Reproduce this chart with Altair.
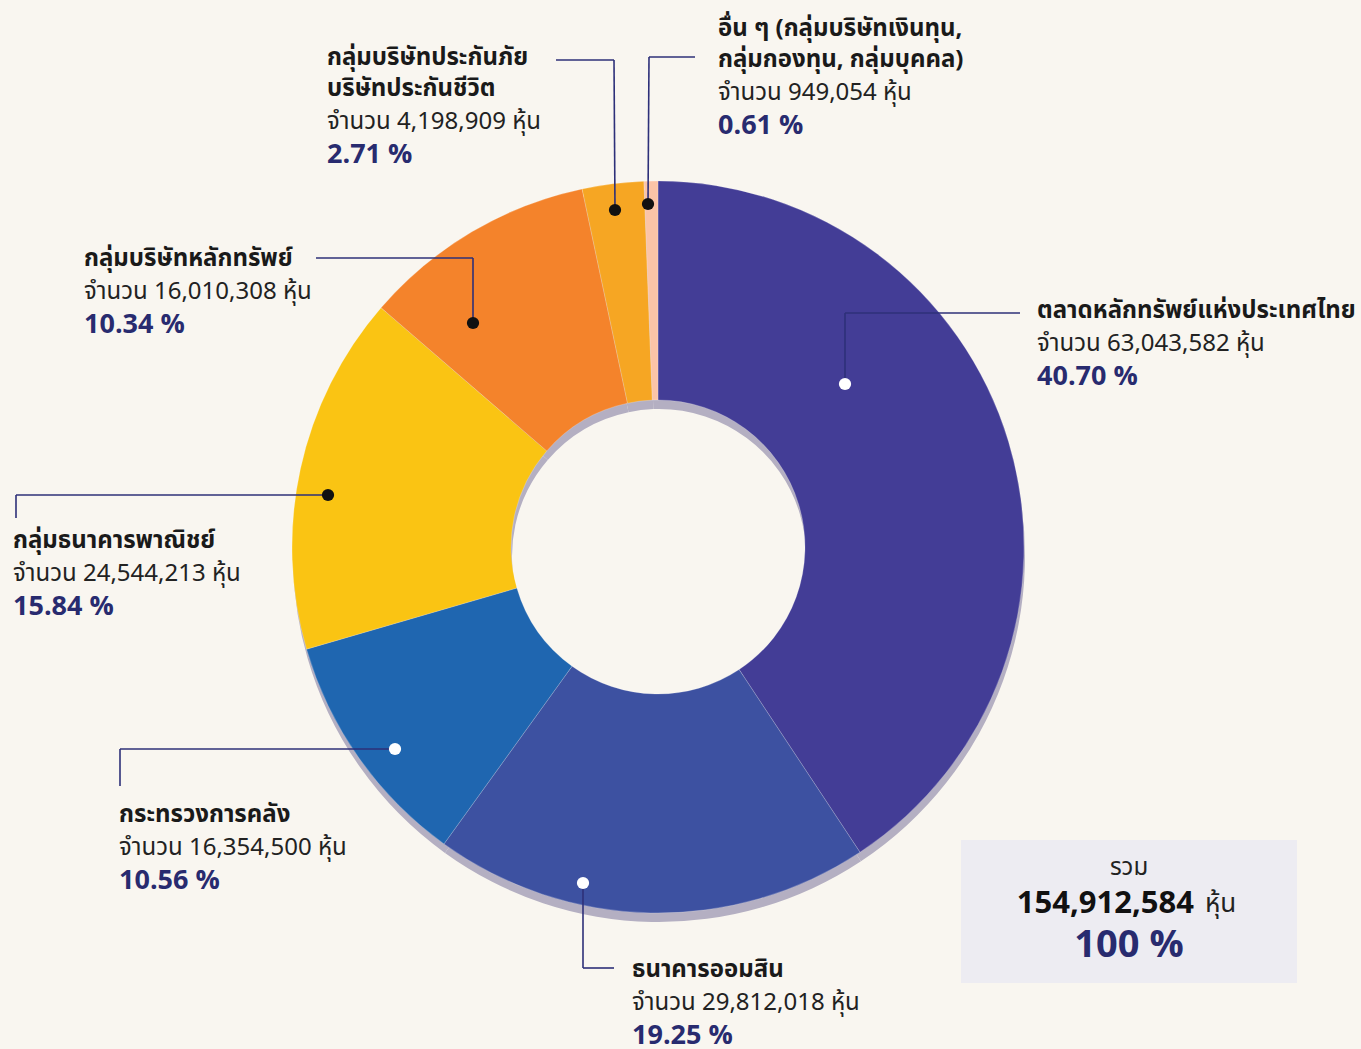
import altair as alt
import pandas as pd

W, H = 1361, 1049
BG = "#F9F6F0"
NAVY = "#282B6F"
FONT = "Noto Sans Thai, Noto Sans, sans-serif"

# ---- data ----
names = [
    "ตลาดหลักทรัพย์แห่งประเทศไทย",
    "ธนาคารออมสิน",
    "กระทรวงการคลัง",
    "กลุ่มธนาคารพาณิชย์",
    "กลุ่มบริษัทหลักทรัพย์",
    "กลุ่มบริษัทประกันภัย\nบริษัทประกันชีวิต",
    "อื่น ๆ (กลุ่มบริษัทเงินทุน,\nกลุ่มกองทุน, กลุ่มบุคคล)",
]
shares = [63043582, 29812018, 16354500, 24544213, 16010308, 4198909, 949054]
pcts = [40.70, 19.25, 10.56, 15.84, 10.34, 2.71, 0.61]
total_shares = 154912584
total_pct = 100

# ---- styling ----
colors = ["#433D96", "#3D51A1", "#1F66B0", "#FAC413", "#F4832B", "#F6A623", "#FBC4A7"]
dot_colors = ["#FFFFFF", "#FFFFFF", "#FFFFFF", "#111111", "#111111", "#111111", "#111111"]

# ---- annotation layout (pixels) ----
dot_x = [845, 583, 395, 328, 473, 615, 648]
dot_y = [384, 883, 749, 495, 323, 210, 204]
elbow_x = [845, 583, 120, 16, 473, 614, 649]
elbow_y = [313, 968, 749, 495, 258, 60, 57]
end_x = [1020, 614, 120, 16, 316, 556, 695]
end_y = [313, 968, 786, 518, 258, 60, 57]
label_x = [1037, 632, 119, 13, 84, 327, 718]
label_y = [311, 970, 815, 541, 259, 58, 29]
LINE_GAP = 33

CX, CY, R_OUT, R_IN = 658, 547, 366, 147

xs = alt.Scale(domain=[0, W], range=[0, W])
ys = alt.Scale(domain=[0, H], range=[0, H])

pie_df = pd.DataFrame({"name": names, "shares": shares, "idx": list(range(len(names)))})

shadow = alt.Chart(pie_df).mark_arc(
    radius=R_OUT, radius2=R_IN, color="#B4AFC2"
).encode(
    theta=alt.Theta("shares:Q", stack=True),
    order=alt.Order("idx:Q"),
    x=alt.value(CX + 1), y=alt.value(CY + 9),
)

donut = alt.Chart(pie_df).mark_arc(
    radius=R_OUT, radius2=R_IN, stroke="#FFFFFF", strokeWidth=0.6, strokeOpacity=0.35
).encode(
    theta=alt.Theta("shares:Q", stack=True),
    order=alt.Order("idx:Q"),
    color=alt.Color("name:N", scale=alt.Scale(domain=names, range=colors), legend=None),
    x=alt.value(CX), y=alt.value(CY),
)

# leader lines
seg_rows = []
for i in range(len(names)):
    seg_rows.append({"x": dot_x[i], "y": dot_y[i], "x2": elbow_x[i], "y2": elbow_y[i]})
    seg_rows.append({"x": elbow_x[i], "y": elbow_y[i], "x2": end_x[i], "y2": end_y[i]})
seg_df = pd.DataFrame(seg_rows)
leaders = alt.Chart(seg_df).mark_rule(color="#2E3079", strokeWidth=1.6).encode(
    x=alt.X("x:Q", scale=xs, axis=None),
    y=alt.Y("y:Q", scale=ys, axis=None),
    x2="x2:Q", y2="y2:Q",
)

dot_df = pd.DataFrame({"x": dot_x, "y": dot_y, "c": dot_colors})
dots = alt.Chart(dot_df).mark_circle(size=150, opacity=1).encode(
    x=alt.X("x:Q", scale=xs, axis=None),
    y=alt.Y("y:Q", scale=ys, axis=None),
    color=alt.Color("c:N", scale=None),
)

# labels
name_rows, amt_rows, pct_rows = [], [], []
for i, nm in enumerate(names):
    lines = nm.split("\n")
    y = label_y[i]
    for ln in lines:
        name_rows.append({"x": label_x[i], "y": y, "t": ln})
        y += LINE_GAP - 2
    y += 2
    amt_rows.append({"x": label_x[i], "y": y, "t": f"จำนวน {shares[i]:,} หุ้น"})
    y += LINE_GAP
    pct_rows.append({"x": label_x[i], "y": y, "t": f"{pcts[i]:.2f} %"})


def text_layer(rows, size, weight, color):
    return alt.Chart(pd.DataFrame(rows)).mark_text(
        align="left", baseline="middle", font=FONT, fontSize=size,
        fontWeight=weight, color=color,
    ).encode(
        x=alt.X("x:Q", scale=xs, axis=None),
        y=alt.Y("y:Q", scale=ys, axis=None),
        text="t:N",
    )

names_t = text_layer(name_rows, 24, "bold", "#1A1A1A")
amts_t = text_layer(amt_rows, 24, "normal", "#222222")
pcts_t = text_layer(pct_rows, 27, "bold", NAVY)

# total box
box = alt.Chart(pd.DataFrame({"x": [961], "x2": [1297], "y": [840], "y2": [983]})).mark_rect(
    color="#EDECF2"
).encode(
    x=alt.X("x:Q", scale=xs, axis=None), x2="x2:Q",
    y=alt.Y("y:Q", scale=ys, axis=None), y2="y2:Q",
)

tot_df = pd.DataFrame({"lbl": ["รวม"], "num": [f"{total_shares:,}"], "unit": ["หุ้น"],
                       "pct": [f"{total_pct} %"]})
base_tot = alt.Chart(tot_df)
t_lbl = base_tot.mark_text(align="center", baseline="middle", font=FONT, fontSize=24,
                           color="#222222").encode(x=alt.value(1129), y=alt.value(868), text="lbl:N")
t_num = base_tot.mark_text(align="right", baseline="middle", font=FONT, fontSize=31,
                           fontWeight="bold", color="#111111").encode(
    x=alt.value(1194), y=alt.value(904), text="num:N")
t_unit = base_tot.mark_text(align="left", baseline="middle", font=FONT, fontSize=26,
                            color="#222222").encode(x=alt.value(1205), y=alt.value(904), text="unit:N")
t_pct = base_tot.mark_text(align="center", baseline="middle", font=FONT, fontSize=38,
                           fontWeight="bold", color=NAVY).encode(
    x=alt.value(1129), y=alt.value(946), text="pct:N")

chart = alt.layer(
    shadow, donut, leaders, dots, names_t, amts_t, pcts_t, box, t_lbl, t_num, t_unit, t_pct
).properties(
    width=W, height=H, autosize="none", padding=0, background=BG
).configure_view(stroke=None)

chart.save("out.html", embed_options={"renderer": "svg", "actions": False})
